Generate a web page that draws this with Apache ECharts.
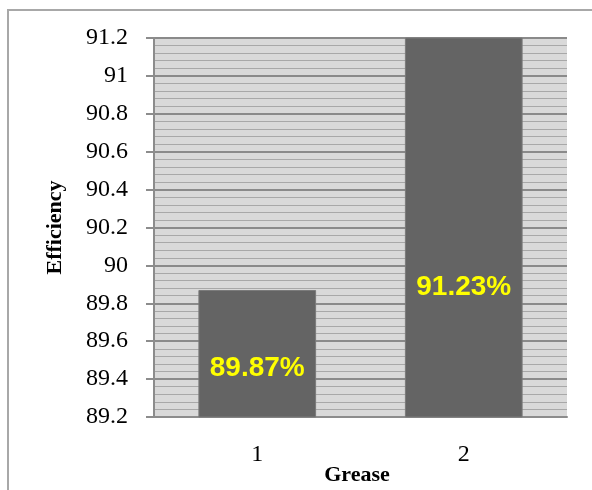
<!DOCTYPE html>
<html>
<head>
<meta charset="utf-8">
<script src="https://cdn.jsdelivr.net/npm/echarts@6/dist/echarts.min.js"></script>
<style>
  html, body { margin: 0; padding: 0; background: #fff; }
  #chart { width: 592px; height: 490px; }
</style>
</head>
<body>
<div id="chart"></div>
<script>
// Grease types and their measured efficiency (%)
const categories = ['1', '2'];
const efficiency = [89.87, 91.23];
const yMin = 89.2;
const yMax = 91.2;
const yStep = 0.2;

const chart = echarts.init(document.getElementById('chart'), null, { renderer: 'canvas' });

const serif = '"Liberation Serif", "Times New Roman", serif';

const option = {
  animation: false,
  backgroundColor: '#ffffff',
  graphic: [{
    type: 'rect',
    z: -10,
    silent: true,
    shape: { x: 8, y: 10, width: 620, height: 520 },
    style: { fill: 'none', stroke: '#a8a8a8', lineWidth: 2 }
  }],
  grid: {
    left: 154, right: 25, top: 38, bottom: 73,
    outerBoundsMode: 'none',
    containLabel: false,
    show: true,
    backgroundColor: '#d9d9d9',
    borderWidth: 0
  },
  xAxis: {
    type: 'category',
    data: categories,
    name: 'Grease',
    nameLocation: 'middle',
    nameGap: 47,
    nameMoveOverlap: false,
    nameTextStyle: { fontFamily: serif, fontWeight: 'bold', fontSize: 22, color: '#000', padding: [0, 7, 0, 0] },
    axisLine: { show: true, lineStyle: { color: '#8c8c8c', width: 2 } },
    axisTick: { show: false },
    axisLabel: { fontFamily: serif, fontSize: 24, color: '#000', margin: 26 },
    splitLine: { show: false }
  },
  yAxis: {
    type: 'value',
    min: yMin,
    max: yMax,
    interval: yStep,
    name: 'Efficiency',
    nameLocation: 'middle',
    nameGap: 88,
    nameMoveOverlap: false,
    nameTextStyle: { fontFamily: serif, fontWeight: 'bold', fontSize: 22, color: '#000' },
    axisLine: { show: true, lineStyle: { color: '#8c8c8c', width: 2 } },
    axisTick: { show: true, inside: false, length: 8, lineStyle: { color: '#8c8c8c', width: 2 } },
    axisLabel: {
      fontFamily: serif, fontSize: 24, color: '#000', margin: 26,
      formatter: v => String(parseFloat(v.toFixed(1)))
    },
    splitLine: { show: true, lineStyle: { color: '#8a8a8a', width: 2 } },
    minorTick: { show: false, splitNumber: 5 },
    minorSplitLine: { show: true, lineStyle: { color: '#a8a8a8', width: 1 } }
  },
  series: [{
    type: 'bar',
    barWidth: '57%',
    clip: true,
    itemStyle: { color: '#646464', borderColor: '#7a7a7a', borderWidth: 1 },
    data: efficiency.map((v, i) => ({
      value: v,
      label: { offset: [0, i === 0 ? 15 : 60] }
    })),
    label: {
      show: true,
      position: 'inside',
      color: '#ffff00',
      fontFamily: '"Liberation Sans", Arial, sans-serif',
      fontWeight: 'bold',
      fontSize: 28,
      formatter: p => p.value.toFixed(2) + '%'
    }
  }]
};

chart.setOption(option);
</script>
</body>
</html>
